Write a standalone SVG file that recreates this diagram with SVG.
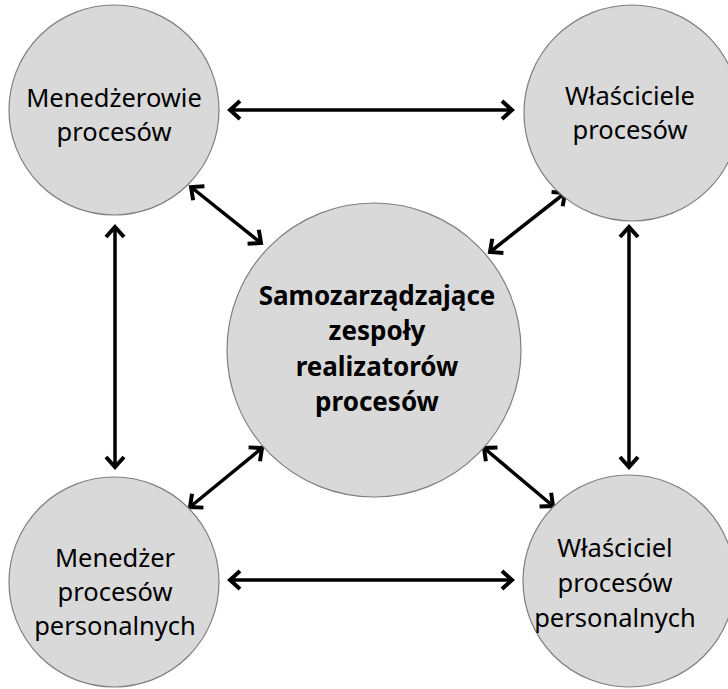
<svg xmlns="http://www.w3.org/2000/svg" width="728" height="689" viewBox="0 0 728 689">
  <defs>
    <style>
      .node { fill: #d9d9d9; stroke: #7f7f7f; stroke-width: 1.2; }
      .label { font-family: "Noto Sans", "Open Sans", sans-serif; font-size: 25.5px; fill: #000; text-anchor: middle; }
      .label-bold { font-family: "Noto Sans", "Open Sans", sans-serif; font-size: 26px; font-weight: bold; fill: #000; text-anchor: middle; }
      .link { stroke: #000; stroke-width: 3.5; fill: none; marker-start: url(#chevron); marker-end: url(#chevron); }
    </style>
    <marker id="chevron" markerUnits="userSpaceOnUse" markerWidth="30" markerHeight="30" refX="0" refY="0" orient="auto-start-reverse" viewBox="-15 -15 30 30" overflow="visible">
      <path d="M -10 -9 L 0 0 L -10 9" fill="none" stroke="#000" stroke-width="4" stroke-linejoin="miter"/>
    </marker>
  </defs>
  <rect width="728" height="689" fill="#fff"/>

  <g id="connectors">
    <line class="link" x1="230" y1="110" x2="512" y2="110"/>
    <line class="link" x1="230" y1="580" x2="512" y2="580"/>
    <line class="link" x1="115" y1="227" x2="115" y2="467"/>
    <line class="link" x1="629" y1="227" x2="629" y2="467"/>
    <line class="link" x1="191" y1="187" x2="261" y2="243"/>
    <line class="link" x1="565" y1="193" x2="490" y2="252"/>
    <line class="link" x1="262" y1="448" x2="190" y2="507"/>
    <line class="link" x1="484" y1="448" x2="553" y2="506"/>
  </g>

  <g id="process-managers">
    <circle class="node" cx="114" cy="110" r="105"/>
    <text class="label" x="114" y="107">Menedżerowie</text>
    <text class="label" x="114" y="141">procesów</text>
  </g>

  <g id="process-owners">
    <circle class="node" cx="632" cy="113" r="108"/>
    <text class="label" x="630" y="105">Właściciele</text>
    <text class="label" x="630" y="139">procesów</text>
  </g>

  <g id="self-managing-teams">
    <circle class="node" cx="374" cy="350" r="147"/>
    <text class="label-bold" x="377" y="305">Samozarządzające</text>
    <text class="label-bold" x="377" y="340">zespoły</text>
    <text class="label-bold" x="377" y="376">realizatorów</text>
    <text class="label-bold" x="377" y="411">procesów</text>
  </g>

  <g id="personnel-process-manager">
    <circle class="node" cx="114" cy="582" r="105"/>
    <text class="label" x="115" y="567">Menedżer</text>
    <text class="label" x="115" y="601">procesów</text>
    <text class="label" x="115" y="635">personalnych</text>
  </g>

  <g id="personnel-process-owner">
    <circle class="node" cx="629" cy="581" r="106"/>
    <text class="label" x="615" y="557">Właściciel</text>
    <text class="label" x="615" y="592">procesów</text>
    <text class="label" x="615" y="627">personalnych</text>
  </g>
</svg>
